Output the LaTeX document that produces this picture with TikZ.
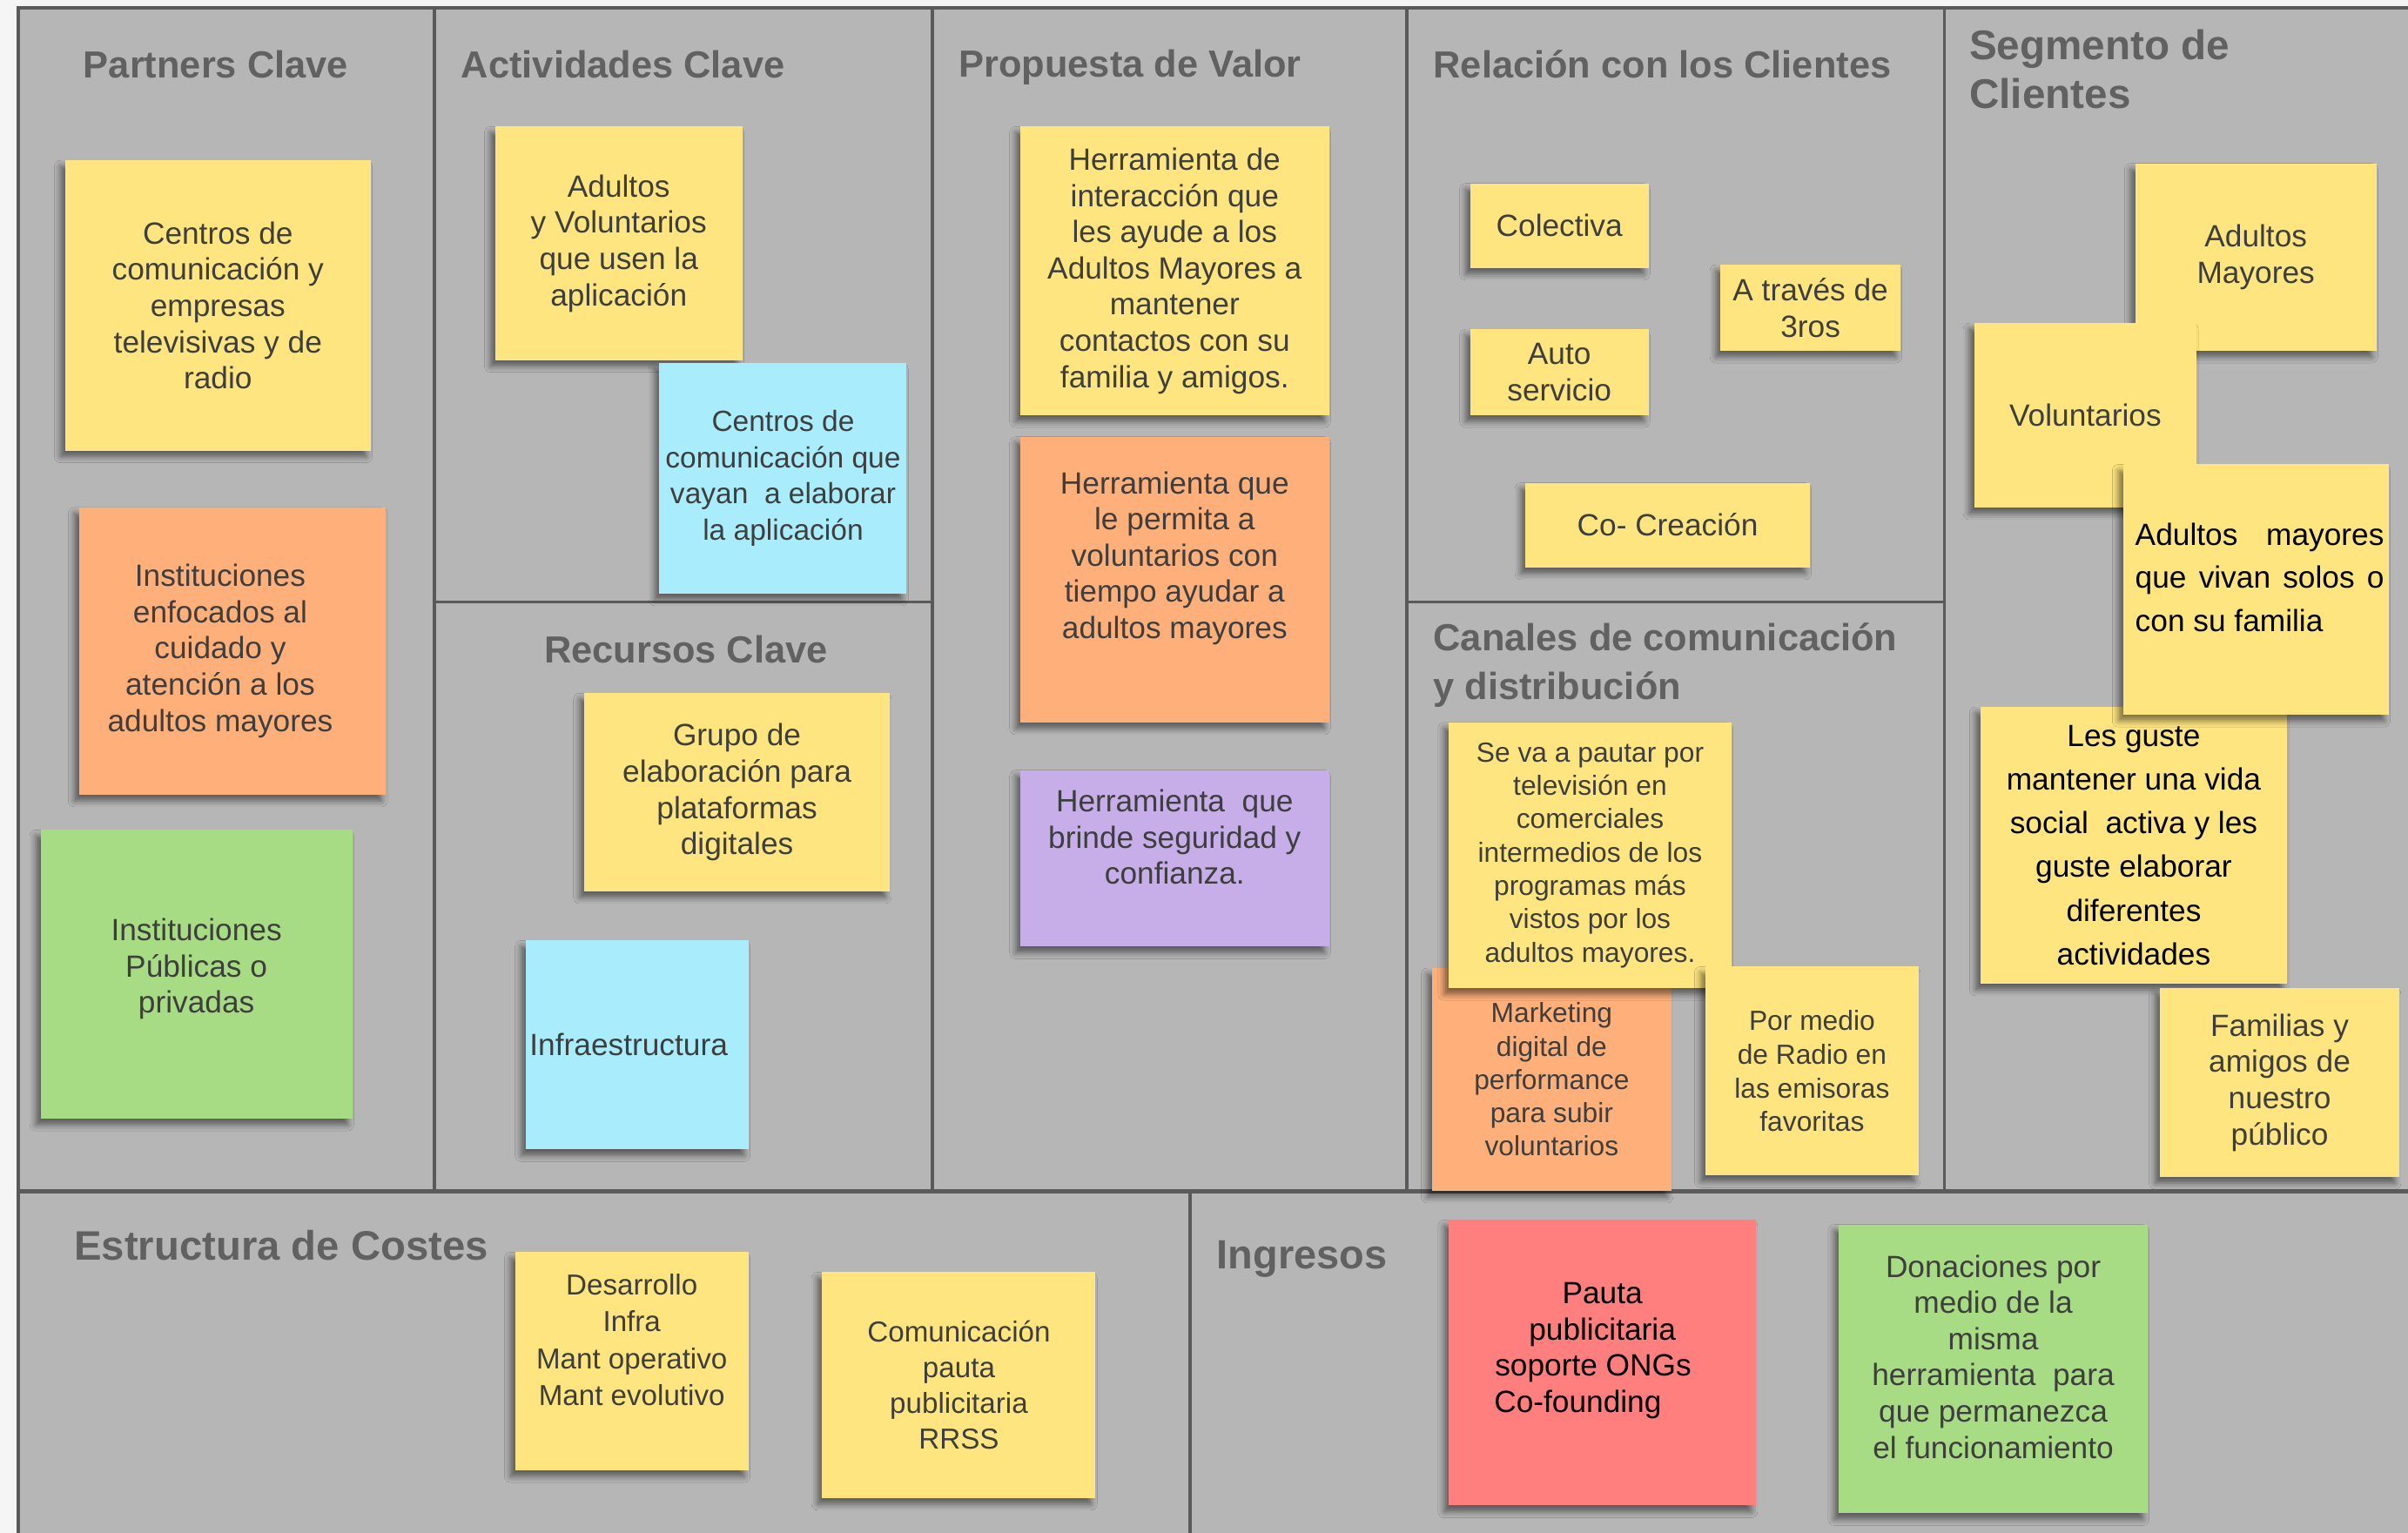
\documentclass[tikz,border=0pt]{standalone}
\usepackage{fontspec}
\setmainfont{Liberation Sans}
\usetikzlibrary{shadows.blur}

\definecolor{canvas}{HTML}{B6B6B6}
\definecolor{framegray}{HTML}{5A5A5A}
\definecolor{titlegray}{HTML}{616161}
\definecolor{notegray}{HTML}{3E3E3E}
\definecolor{ylw}{HTML}{FFE57F}
\definecolor{org}{HTML}{FFB07A}
\definecolor{grn}{HTML}{A8DC84}
\definecolor{cyn}{HTML}{A9EDFD}
\definecolor{prp}{HTML}{C7AEE8}
\definecolor{rd}{HTML}{FF7E7E}

\tikzset{
  frame/.style={draw=framegray, line width=1pt},
  blocktitle/.style={anchor=west, inner sep=0pt, align=left, text=titlegray,
    font=\bfseries\fontsize{12.3}{16}\selectfont},
  note/.style={fill=#1, anchor=north west, inner sep=0pt, align=center, text=notegray,
    font=\fontsize{10}{11.8}\selectfont,
    blur shadow={shadow xshift=-1.5pt, shadow yshift=-2pt, shadow blur radius=2pt, shadow opacity=50}},
  smalltext/.style={font=\fontsize{9}{10.85}\selectfont},
}

\begin{document}
\begin{tikzpicture}[x=0.5pt, y=-0.5pt]
\fill[black!4] (0,0) rectangle (1568,998);
\fill[canvas] (12,5) rectangle (1568,998);
\useasboundingbox (0,0) rectangle (1568,998);

% canvas lines
\draw[frame] (12,998) -- (12,5) -- (1568,5);
\draw[frame] (283,5) -- (283,776);
\draw[frame] (607,5) -- (607,776);
\draw[frame] (916,5) -- (916,776);
\draw[frame] (1266,5) -- (1266,776);
\draw[frame] (283,392) -- (607,392);
\draw[frame] (916,392) -- (1266,392);
\draw[frame, line width=1.4pt] (12,776) -- (1568,776);
\draw[frame] (775,776) -- (775,998);

% block titles
\node[blocktitle] (tkp) at (54,42) {Partners Clave};
\node[blocktitle] (tka) at (300,42) {Actividades Clave};
\node[blocktitle] (tvp) at (624,44) {Propuesta de Valor};
\node[blocktitle] (trc) at (933,42) {Relación con los Clientes};
\node[blocktitle, font=\bfseries\fontsize{13.5}{16}\selectfont] (tcs) at (1282,45) {Segmento de\\Clientes};
\node[blocktitle] (tkr) at (354,423) {Recursos Clave};
\node[blocktitle] (tch) at (933,433) {Canales de comunicación\\y distribución};
\node[blocktitle, font=\bfseries\fontsize{13.4}{16}\selectfont] (tec) at (48,811) {Estructura de Costes};
\node[blocktitle, font=\bfseries\fontsize{13.3}{16}\selectfont] (tin) at (792,820) {Ingresos};

% partners clave
\node[note=ylw, minimum width=99.5pt, minimum height=94.5pt] (kp1) at (42,104)
  {Centros de\\comunicación y\\empresas\\televisivas y de\\radio};
\node[note=org, minimum width=100pt, minimum height=93.5pt] (kp2) at (51,330)
  {Instituciones\kern8pt\\enfocados al\kern8pt\\cuidado y\kern8pt\\atención a los\kern8pt\\adultos mayores\kern8pt};
\node[note=grn, minimum width=101.5pt, minimum height=94pt] (kp3) at (26,540)
  {Instituciones\\Públicas o\\privadas\\[-6.3pt]};

% actividades clave
\node[note=ylw, minimum width=80.5pt, minimum height=76pt] (ka1) at (322,82)
  {Adultos\\y Voluntarios\\que usen la\\aplicación};
\node[note=cyn, minimum width=80.5pt, minimum height=75pt, font=\fontsize{9.5}{11.8}\selectfont] (ka2) at (429,236)
  {Centros de\\comunicación que\\vayan\ \ a elaborar\\la aplicación};

% recursos clave
\node[note=ylw, minimum width=99.5pt, minimum height=64.5pt] (kr1) at (380,451)
  {Grupo de\\elaboración para\\plataformas\\digitales};
\node[note=cyn, minimum width=72.5pt, minimum height=68pt, text width=70pt, align=left] (kr2) at (342,612)
  {Infraestructura};

% propuesta de valor
\node[note=ylw, minimum width=100.5pt, minimum height=94pt] (vp1) at (664,82)
  {Herramienta de\\interacción que\\les ayude a los\\Adultos Mayores a\\mantener\\contactos con su\\familia y amigos.};
\node[note=org, minimum width=100.5pt, minimum height=93pt] (vp2) at (664,284)
  {Herramienta que\\le permita a\\voluntarios con\\tiempo ayudar a\\adultos mayores\\[4.2pt]};
\node[note=prp, minimum width=100.5pt, minimum height=57.5pt] (vp3) at (664,501)
  {Herramienta\ \ que\\brinde seguridad y\\confianza.\\[2.2pt]};

% relacion con los clientes
\node[note=ylw, minimum width=58pt, minimum height=27.5pt] (rc1) at (957,119) {Colectiva};
\node[note=ylw, minimum width=58.5pt, minimum height=28pt, font=\fontsize{10}{12}\selectfont] (rc2) at (1120,172) {A través de\\3ros};
\node[note=ylw, minimum width=58pt, minimum height=28pt, font=\fontsize{10}{12}\selectfont] (rc3) at (957,214) {Auto\\servicio};
\node[note=ylw, minimum width=92.5pt, minimum height=27.5pt] (rc4) at (993,314) {Co- Creación};

% canales
\node[note=org, smalltext, minimum width=78pt, minimum height=72.5pt] (ch1) at (932,630)
  {Marketing\\digital de\\performance\\para subir\\voluntarios};
\node[note=ylw, smalltext, minimum width=92pt, minimum height=86.5pt] (ch2) at (943,470)
  {Se va a pautar por\\televisión en\\comerciales\\intermedios de los\\programas más\\vistos por los\\adultos mayores.};
\node[note=ylw, smalltext, font=\fontsize{9}{11}\selectfont, minimum width=69.5pt, minimum height=68pt] (ch3) at (1110,629)
  {Por medio\\de Radio en\\las emisoras\\favoritas};

% segmento de clientes
\node[note=ylw, minimum width=78.5pt, minimum height=61pt, font=\fontsize{10}{12}\selectfont] (cs1) at (1390,106) {Adultos\\Mayores};
\node[note=ylw, minimum width=72.5pt, minimum height=60pt] (cs2) at (1285,210) {Voluntarios};
\node[note=ylw, minimum width=100pt, minimum height=90pt, text=black, font=\fontsize{10}{14.2}\selectfont] (cs4) at (1289,460)
  {Les guste\\mantener una vida\\social\ \ activa y les\\guste elaborar\\diferentes\\actividades};
\node[note=ylw, minimum width=86.5pt, minimum height=81.5pt, text width=83.5pt, align=justify, text=black,
  font=\fontsize{10}{14}\selectfont] (cs3) at (1382,302)
  {\hspace*{2.5pt}Adultos mayores\linebreak\hspace*{2.5pt}que vivan solos o\linebreak\hspace*{2.5pt}con su familia\par\vspace*{8pt}};
\node[note=ylw, minimum width=78pt, minimum height=61.5pt] (cs5) at (1406,643)
  {Familias y\\amigos de\\nuestro\\público};

% estructura de costes
\node[note=ylw, minimum width=76pt, minimum height=71pt, font=\fontsize{9.4}{12}\selectfont] (ec1) at (335,815)
  {Desarrollo\\Infra\\Mant operativo\\Mant evolutivo\\[2pt]};
\node[note=ylw, minimum width=89pt, minimum height=73.5pt, font=\fontsize{9.4}{11.7}\selectfont] (ec2) at (535,828)
  {Comunicación\\pauta\\publicitaria\\RRSS};

% ingresos
\node[note=rd, minimum width=100pt, minimum height=93pt, text=black] (in1) at (943,794)
  {Pauta\\publicitaria\\soporte ONGs\kern6pt\\Co-founding\kern16pt\\[-1.8pt]};
\node[note=grn, minimum width=100.5pt, minimum height=94pt] (in2) at (1197,797)
  {Donaciones por\\medio de la\\misma\\herramienta\ \ para\\que permanezca\\el funcionamiento\\[-3.8pt]};
\end{tikzpicture}
\end{document}
